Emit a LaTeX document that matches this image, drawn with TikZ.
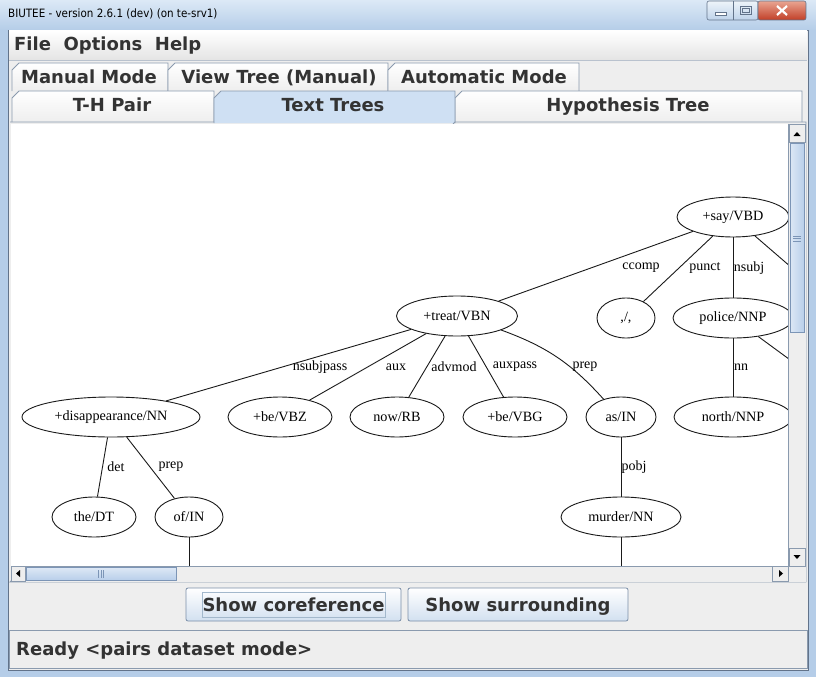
\documentclass[tikz,border=0pt]{standalone}
\usepackage{fontspec}
\setmainfont{Liberation Serif}
\newfontfamily\uifont{DejaVu Sans}
\newfontfamily\ttlfont{DejaVu Sans Condensed}
\usetikzlibrary{shapes.geometric}
\definecolor{frameA}{HTML}{DCE9F6}
\definecolor{frameB}{HTML}{B5CDE8}
\definecolor{clientline}{HTML}{62738A}
\definecolor{panel}{HTML}{EEEEEE}
\definecolor{menubot}{HTML}{E4E4E4}
\definecolor{tabline}{HTML}{8A9AAE}
\definecolor{tabsel}{HTML}{CFE0F3}
\definecolor{thumbA}{HTML}{DDE8F5}
\definecolor{thumbB}{HTML}{B9CFEA}
\definecolor{thumbline}{HTML}{7C95B6}
\definecolor{btnline}{HTML}{7A8EA8}
\definecolor{btnbot}{HTML}{D2E0F0}
\definecolor{focusline}{HTML}{A3B8CC}
\definecolor{uitextcol}{HTML}{333333}
\definecolor{closeA}{HTML}{E9A592}
\definecolor{closeB}{HTML}{C23F27}
\definecolor{wbtnA}{HTML}{EEF4FA}
\definecolor{wbtnB}{HTML}{BED3EA}
\definecolor{treeline}{HTML}{1A1A1A}
\tikzset{
  tnode/.style={draw=treeline, ellipse, line width=0.9pt, inner sep=0pt, minimum height=40pt, font=\fontsize{14.2}{14.2}\selectfont},
  tedge/.style={draw=treeline, line width=0.9pt},
  elab/.style={inner sep=0pt, font=\fontsize{14}{14}\selectfont},
  uitext/.style={inner sep=0pt, anchor=base, text=uitextcol, font=\uifont\bfseries\fontsize{18}{18}\selectfont},
  tabshape/.style={draw=tabline, line width=0.8pt, top color=white, bottom color=panel},
  seltab/.style={draw=tabline, line width=0.8pt, fill=tabsel},
  btnshape/.style={draw=btnline, line width=0.8pt, rounded corners=2pt, top color=white, bottom color=btnbot},
  sbbtn/.style={draw=tabline, line width=0.6pt, fill=panel},
  thumb/.style={draw=thumbline, line width=0.6pt, left color=thumbA, right color=thumbB},
  hthumb/.style={draw=thumbline, line width=0.6pt, top color=thumbA, bottom color=thumbB},
  grip/.style={draw=thumbline, line width=0.6pt},
}
\begin{document}
\begin{tikzpicture}[x=1pt,y=-1pt]
\useasboundingbox (0,0) rectangle (816,677);
% window frame
\fill[frameB] (0,0) rectangle (816,677);
\shade[top color=frameA, bottom color=frameB] (0,0) rectangle (816,30);
\node[inner sep=0pt, anchor=west, font=\ttlfont\fontsize{11.5}{11.5}\selectfont] (title) at (8,14) {BIUTEE - version 2.6.1 (dev) (on te-srv1)};
% window buttons
\draw[draw=clientline, line width=0.6pt, top color=wbtnA, bottom color=wbtnB, rounded corners=2pt] (707,1) rectangle (758,20);
\draw[draw=clientline, line width=0.6pt] (733,1) -- (733,20);
\draw[draw=clientline, line width=0.6pt, top color=closeA, bottom color=closeB, rounded corners=2pt] (758,1) rectangle (806,20);
\draw[draw=clientline, fill=white, line width=0.5pt] (715,12) rectangle (726,15);
\draw[draw=clientline, line width=0.6pt] (740,6) rectangle (751,14);
\draw[draw=clientline, line width=0.5pt] (742,8) rectangle (749,12);
\draw[white, line width=2.2pt] (777,6) -- (787,15) (787,6) -- (777,15);
% client area
\draw[fill=panel, draw=clientline, line width=0.8pt] (8,30) rectangle (808,670);
\shade[top color=white, bottom color=menubot] (9,31) rectangle (807,60);
\draw[tabline!60, line width=0.6pt] (9,60.5) -- (807,60.5);
\node[uitext, anchor=base west] (menu) at (14,51) {File\ \ Options\ \ Help};
% tab row 1
\draw[tabshape] (12,91) -- (12,70) -- (19,63) -- (168,63) -- (168,91);
\draw[tabshape] (168,91) -- (168,70) -- (175,63) -- (388,63) -- (388,91);
\draw[tabshape] (388,91) -- (388,70) -- (395,63) -- (579,63) -- (579,91);
\node[uitext] (tabmanual) at (89,84) {Manual Mode};
\node[uitext] (tabview) at (279,84) {View Tree (Manual)};
\node[uitext] (tabauto) at (484,84) {Automatic Mode};
% tab row 2
\draw[tabshape] (12,122) -- (12,98) -- (19,91) -- (214,91) -- (214,122);
\draw[tabshape] (455,122) -- (455,98) -- (462,91) -- (802,91) -- (802,122);
\draw[seltab] (214,123) -- (214,98) -- (221,91) -- (455,91) -- (455,123);
\node[uitext] (tabth) at (112,111.5) {T-H Pair};
\node[uitext] (tabtext) at (333,111.5) {Text Trees};
\node[uitext] (tabhyp) at (628,111.5) {Hypothesis Tree};
% content panel
\draw[tabline, line width=0.8pt] (10,122) -- (214,122) (455,122) -- (806,122) -- (806,582) -- (10,582) -- cycle;
\fill[white] (11,123.5) rectangle (788,566);
% tree
\begin{scope}
\clip (11,123.5) rectangle (788,566);
\node[tnode, minimum width=112pt] (say) at (733,217) {+say/VBD};
\node[tnode, minimum width=58pt] (punct) at (626,318) {,/,};
\node[tnode, minimum width=120pt] (police) at (733,318) {police/NNP};
\node[tnode, minimum width=118pt] (north) at (733,417) {north/NNP};
\node[tnode, minimum width=121pt] (treat) at (457,316) {+treat/VBN};
\node[tnode, minimum width=178pt] (disap) at (111,417) {+disappearance/NN};
\node[tnode, minimum width=104pt] (bevbz) at (280,417) {+be/VBZ};
\node[tnode, minimum width=94pt] (now) at (397,417) {now/RB};
\node[tnode, minimum width=104pt] (bevbg) at (515,417) {+be/VBG};
\node[tnode, minimum width=70pt] (asin) at (621,417) {as/IN};
\node[tnode, minimum width=84pt] (the) at (94,517) {the/DT};
\node[tnode, minimum width=68pt] (of) at (189,517) {of/IN};
\node[tnode, minimum width=120pt] (murder) at (621,517) {murder/NN};
\coordinate (offA) at (850,318);
\coordinate (offB) at (853,406);
\coordinate (offC) at (189,610);
\coordinate (offD) at (621,610);
\draw[tedge] (say) -- (treat);
\draw[tedge] (say) -- (punct);
\draw[tedge] (say.south) -- (police.north);
\draw[tedge] (say) -- (offA);
\draw[tedge] (police) -- (offB);
\draw[tedge] (police.south) -- (north.north);
\draw[tedge] (treat) -- (disap);
\draw[tedge] (treat) -- (bevbz);
\draw[tedge] (treat) -- (now);
\draw[tedge] (treat) -- (bevbg);
\draw[tedge] (treat) to[bend left=14] (asin);
\draw[tedge] (disap) -- (the);
\draw[tedge] (disap) -- (of);
\draw[tedge] (asin.south) -- (murder.north);
\draw[tedge] (of.south) -- (offC);
\draw[tedge] (murder.south) -- (offD);
\node[elab] (lccomp) at (641,268) {ccomp};
\node[elab] (lpunct) at (705,268) {punct};
\node[elab] (lnsubj) at (749,268) {nsubj};
\node[elab] (lnn) at (741,367) {nn};
\node[elab] (lnsubjp) at (320,367) {nsubjpass};
\node[elab] (laux) at (396,367) {aux};
\node[elab] (ladvmod) at (454,367) {advmod};
\node[elab] (lauxpass) at (515,367) {auxpass};
\node[elab] (lprep) at (585,367) {prep};
\node[elab] (ldet) at (116,467) {det};
\node[elab] (lprep2) at (171,467) {prep};
\node[elab] (lpobj) at (634,467) {pobj};
\end{scope}
% vertical scrollbar
\fill[panel] (788,123.5) rectangle (805.5,566);
\draw[tabline, line width=0.6pt] (788,123.5) -- (788,566);
\draw[sbbtn] (789,124) rectangle (805,142);
\fill (793.5,136) -- (800.5,136) -- (797,132) -- cycle;
\draw[thumb] (790,143) rectangle (804,332);
\draw[grip] (793,236) -- (801,236) (793,238.5) -- (801,238.5) (793,241) -- (801,241);
\draw[sbbtn] (789,548) rectangle (805,566);
\fill (793.5,555) -- (800.5,555) -- (797,559) -- cycle;
% horizontal scrollbar
\fill[panel] (11,566) rectangle (805.5,581.5);
\draw[tabline, line width=0.6pt] (11,566) -- (805.5,566);
\draw[sbbtn] (11,566.5) rectangle (25,581);
\fill (16,573.5) -- (20,570) -- (20,577) -- cycle;
\draw[hthumb] (26,567.5) rectangle (176,580);
\draw[grip] (98.5,570) -- (98.5,577.5) (101,570) -- (101,577.5) (103.5,570) -- (103.5,577.5);
\draw[sbbtn] (772,566.5) rectangle (788,581);
\fill (783,573.5) -- (779,570) -- (779,577) -- cycle;
% buttons
\draw[btnshape] (186,588) rectangle (401,621);
\draw[draw=focusline, line width=0.7pt] (202,592) rectangle (385,617);
\node[uitext] (bcoref) at (293.5,611) {Show coreference};
\draw[btnshape] (408,588) rectangle (628,621);
\node[uitext] (bsurr) at (518,611) {Show surrounding};
% status bar
\draw[draw=tabline, line width=0.8pt, fill=panel] (9,630) rectangle (807,668);
\node[uitext, anchor=base west] (status) at (16,655) {Ready <pairs dataset mode>};
\end{tikzpicture}
\end{document}
